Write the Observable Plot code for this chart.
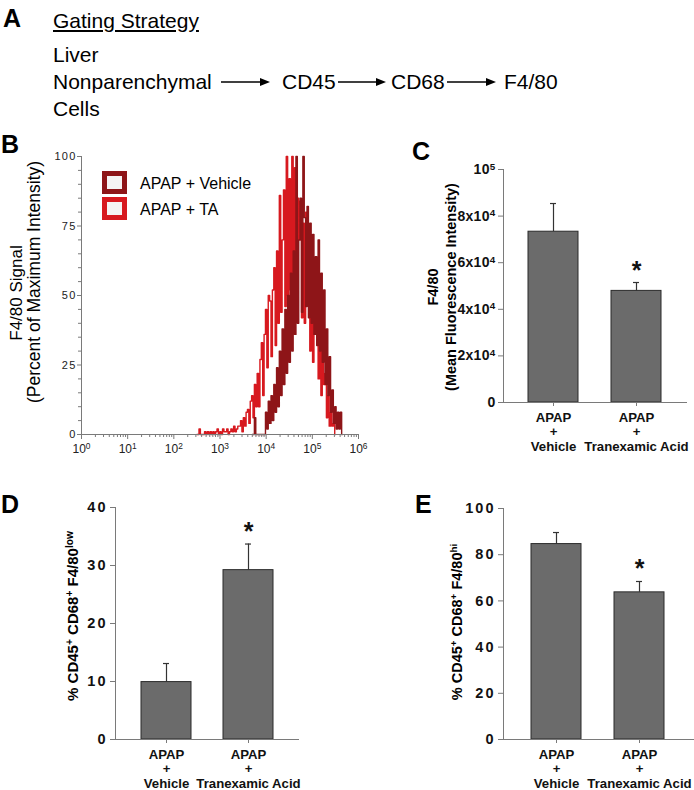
<!DOCTYPE html>
<html><head><meta charset="utf-8">
<script src="https://cdn.jsdelivr.net/npm/d3@7"></script>
<script src="https://cdn.jsdelivr.net/npm/@observablehq/plot@0.6"></script>
<style>
body{margin:0;background:#fff;font-family:"Liberation Sans",Arial,sans-serif;color:#000;}
#root{position:relative;width:694px;height:790px;overflow:hidden;background:#fff;}
.abs{position:absolute;white-space:nowrap;line-height:1;}
.rot{position:absolute;white-space:nowrap;line-height:1;transform:translate(-50%,-50%) rotate(-90deg);}
.plot{position:absolute;}
.letter{font-weight:bold;font-size:25px;}
.sp{font-size:0.68em;position:relative;top:-0.5em;}
.box{position:absolute;box-sizing:border-box;background:#f5f3f3;}
</style></head>
<body><div id="root">
  <div class="abs letter" style="left:3px;top:6px">A</div>
  <div class="abs" style="left:53px;top:10px;font-size:21px;text-decoration:underline;">Gating Strategy</div>
  <div class="abs" style="left:53px;top:44px;font-size:21px;">Liver</div>
  <div class="abs" style="left:53px;top:71px;font-size:21px;">Nonparenchymal</div>
  <div class="abs" style="left:53px;top:98px;font-size:21px;">Cells</div>
  <div class="abs" style="left:282px;top:71px;font-size:21px;">CD45</div>
  <div class="abs" style="left:391px;top:71px;font-size:21px;">CD68</div>
  <div class="abs" style="left:504px;top:71px;font-size:21px;">F4/80</div>
  <svg class="plot" style="left:0;top:0" width="694" height="130">
    <g fill="#000" stroke="#000" stroke-width="1.4">
      <line x1="221" y1="82" x2="262" y2="82"/><polygon points="270,82 260,78 260,86" stroke="none"/>
      <line x1="338" y1="82" x2="378" y2="82"/><polygon points="386,82 376,78 376,86" stroke="none"/>
      <line x1="447" y1="82" x2="488" y2="82"/><polygon points="496,82 486,78 486,86" stroke="none"/>
    </g>
  </svg>

  <div class="abs letter" style="left:1px;top:132px">B</div>
  <div class="abs letter" style="left:412px;top:139px">C</div>
  <div class="abs letter" style="left:1px;top:492px">D</div>
  <div class="abs letter" style="left:415px;top:492px">E</div>
</div>
<script>
// ---------- Data ----------
// Panel B: flow histogram (percent of max), bins on log10 scale
const binStep = 0.03;
const taStartLog = 2.50;
const vehicleStartLog = 3.70;
const taCounts = [
  0,0,2,0,
  0,0,1,0,1,0,1,
  0,1,0,1,2,0,1,0,2,1,
  1,2,0,1,2,1,3,1,2,3,
  3,5,1,6,3,8,
  9,4,12,14,6,18,10,
  22,10,27,33,14,36,
  45,24,50,48,28,52,
  60,32,66,40,86,44,
  70,88,46,100,50,92,
  52,100,48,96,50,85,
  70,84,42,76,40,80,
  55,68,30,60,26,50,
  40,48,20,38,14,30,
  18,22,6,14,3,8,
  3,4,0
];
const vehicleCounts = [
  0,0,6,0,
  0,0,0,0,0,0,
  8,2,12,4,14,5,
  18,8,24,10,30,14,
  38,18,45,22,50,26,
  58,30,66,36,100,40,
  70,85,44,100,78,46,
  82,42,76,40,72,36,
  64,32,70,30,58,26,
  52,18,38,14,28,8,
  16,4,10,2,8,2,
  8,0
];
const seriesNames = ["APAP + Vehicle", "APAP + TA"];
const seriesColors = ["#8e1518", "#d7191f"];
const decadeTicks = [1, 10, 100, 1000, 10000, 100000, 1000000];
const histYTicks = [0, 25, 50, 75, 100];

// Panels C-E
const groups = ["APAP\n+\nVehicle", "APAP\n+\nTranexamic Acid"];
const significant = [false, true];
const mfiMean = [73300, 47900];
const mfiSem = [12100, 3600];
const lowMean = [9.9, 29.2];
const lowSem = [3.2, 4.5];
const hiMean = [84.6, 63.7];
const hiSem = [5.0, 4.7];
const mfiTicks = [0, 20000, 40000, 60000, 80000, 100000];
const mfiTickLabels = ["0", "2x10⁴", "4x10⁴", "6x10⁴", "8x10⁴", "10⁵"];
const lowTicks = [0, 10, 20, 30, 40];
const hiTicks = [0, 20, 40, 60, 80, 100];

// ---------- Build ----------
const root = document.getElementById("root");
const FONT = "Liberation Sans, Arial, sans-serif";
const AX = "#7a7a7a";
const supDigits = ["⁰","¹","²","³","⁴","⁵","⁶"];

function place(node, left, top) {
  node.classList.add("plot");
  node.style.left = left + "px";
  node.style.top = top + "px";
  root.appendChild(node);
  return node;
}
// turn trailing unicode superscript digit into a raised tspan (text stays text)
function supify(svg) {
  d3.select(svg).selectAll("text").each(function() {
    const t = this.textContent;
    const m = t.match(/^(.*?)([⁰¹²³⁴⁵⁶])$/);
    if (!m || this.querySelector("tspan")) return;
    const digit = String(supDigits.indexOf(m[2]));
    this.textContent = m[1];
    const ts = document.createElementNS("http://www.w3.org/2000/svg", "tspan");
    ts.setAttribute("dy", "-0.45em");
    ts.setAttribute("font-size", "0.7em");
    ts.textContent = digit;
    this.appendChild(ts);
  });
}
function tickFont(svg, axis, size, weight, spacing) {
  d3.select(svg).selectAll("g").filter(function() {
    const a = this.getAttribute("aria-label") || "";
    return a.startsWith(axis + "-axis tick label");
  }).selectAll("text")
    .attr("font-size", size).attr("font-weight", weight)
    .style("font-size", size + "px").style("font-weight", weight)
    .style("letter-spacing", spacing + "px");
}

// Panel B
const taData = taCounts.map((y, i) => ({x: 10 ** (taStartLog + i * binStep), y}));
const vehData = vehicleCounts.map((y, i) => ({x: 10 ** (vehicleStartLog + i * binStep), y}));
const minorX = [];
for (let e = 0; e < 6; e++) for (let m = 2; m <= 9; m++) minorX.push(m * 10 ** e);
const minorY = d3.range(0, 101, 5).filter(v => v % 25 !== 0);

const bPlot = Plot.plot({
  width: 370, height: 330,
  marginLeft: 81, marginTop: 16, marginRight: 12, marginBottom: 36,
  style: {fontFamily: FONT, fontSize: "10px", color: "#222", background: "transparent", overflow: "visible"},
  x: {type: "log", domain: [1, 1e6], axis: null},
  y: {domain: [0, 100], axis: null},
  marks: [
    Plot.line(taData, {x: "x", y: "y", curve: "step", stroke: seriesColors[1], strokeWidth: 1.4}),
    Plot.line(vehData, {x: "x", y: "y", curve: "step", stroke: seriesColors[0], strokeWidth: 1.4}),
    Plot.axisX({ticks: minorX, tickSize: 3, tickFormat: () => "", stroke: AX, label: null}),
    Plot.axisX({ticks: decadeTicks, tickSize: 5, tickPadding: 5, tickFormat: d => "10" + supDigits[Math.round(Math.log10(d))], stroke: AX, label: null}),
    Plot.axisY({ticks: minorY, tickSize: 3, tickFormat: () => "", stroke: AX, label: null}),
    Plot.axisY({ticks: histYTicks, tickSize: 4, tickPadding: 1, stroke: AX, label: null}),
    Plot.frame({anchor: "left", stroke: AX}),
    Plot.frame({anchor: "bottom", stroke: AX})
  ]
});
supify(bPlot);
tickFont(bPlot, "y", 11, "normal", 1.2);
tickFont(bPlot, "x", 12, "normal", 0);
place(bPlot, 0, 140);

// Panel B labels / legend (HTML)
function addHTML(html) { root.insertAdjacentHTML("beforeend", html); }
addHTML(`<div class="rot" style="left:16px;top:293px;font-size:17px;">F4/80 Signal</div>`);
addHTML(`<div class="rot" style="left:35px;top:282px;font-size:17.5px;">(Percent of Maximum Intensity)</div>`);
seriesNames.forEach((name, i) => {
  const top = [171, 197][i];
  addHTML(`<div class="box" style="left:102px;top:${top}px;width:25px;height:23px;border:5px solid ${seriesColors[i]};"></div>`);
  addHTML(`<div class="abs" style="left:140px;top:${top + 5}px;font-size:16px;">${name}</div>`);
});

// Bar panels
function barPanel({means, sems, yDomain, yTicks, yLabels, width, height, margins, pInner, pOuter, tickSizePx, spacing}) {
  const data = groups.map((g, i) => ({g, mean: means[i], top: means[i] + sems[i], sig: significant[i]}));
  const svg = Plot.plot({
    width, height, ...margins,
    style: {fontFamily: FONT, fontSize: "13px", fontWeight: "bold", color: "#111", background: "transparent", overflow: "visible"},
    x: {domain: groups, paddingInner: pInner, paddingOuter: pOuter, axis: null},
    y: {domain: yDomain, axis: null},
    marks: [
      Plot.ruleX(data, {x: "g", y1: "mean", y2: "top", stroke: "#333", strokeWidth: 1.2}),
      Plot.tickY(data, {x: "g", y: "top", stroke: "#333", strokeWidth: 1.2, insetLeft: 22, insetRight: 22}),
      Plot.barY(data, {x: "g", y: "mean", fill: "#6b6b6b", stroke: "#2b2b2b", strokeWidth: 1}),
      Plot.text(data.filter(d => d.sig), {x: "g", y: "top", text: () => "*", fontSize: 25, fontWeight: "bold", dy: -12, fill: "#111"}),
      Plot.axisY({ticks: yTicks, tickSize: 5, tickPadding: 3,
        tickFormat: yLabels ? d => yLabels[yTicks.indexOf(d)] : d => String(d), stroke: AX, label: null}),
      Plot.axisX({tickSize: 4, tickFormat: () => "", stroke: AX, label: null}),
      Plot.frame({anchor: "left", stroke: AX}),
      Plot.frame({anchor: "bottom", stroke: AX}),
      Plot.text(data, {x: "g", text: "g", frameAnchor: "bottom", lineAnchor: "top", dy: 8.5, lineHeight: 1.12, fontSize: 13.2, fontWeight: "bold", fill: "#111"})
    ]
  });
  supify(svg);
  tickFont(svg, "y", tickSizePx, "bold", spacing);
  return svg;
}

place(barPanel({means: mfiMean, sems: mfiSem, yDomain: [0, 100000], yTicks: mfiTicks, yLabels: mfiTickLabels,
  width: 314, height: 335, margins: {marginLeft: 123, marginTop: 29, marginRight: 8, marginBottom: 73},
  pInner: 0.396, pOuter: 0.29, tickSizePx: 14, spacing: 0.3}), 380, 140);
place(barPanel({means: lowMean, sems: lowSem, yDomain: [0, 40], yTicks: lowTicks,
  width: 340, height: 315, margins: {marginLeft: 115, marginTop: 32, marginRight: 42, marginBottom: 51},
  pInner: 0.392, pOuter: 0.30, tickSizePx: 14.5, spacing: 2}), 0, 475);
place(barPanel({means: hiMean, sems: hiSem, yDomain: [0, 100], yTicks: hiTicks,
  width: 344, height: 315, margins: {marginLeft: 153, marginTop: 33, marginRight: 1, marginBottom: 51},
  pInner: 0.394, pOuter: 0.33, tickSizePx: 14.5, spacing: 2}), 350, 475);

// Y titles for bar panels
addHTML(`<div class="rot" style="left:433px;top:287px;font-size:14.5px;font-weight:bold;">F4/80</div>`);
addHTML(`<div class="rot" style="left:451px;top:287px;font-size:14.5px;font-weight:bold;">(Mean Fluorescence Intensity)</div>`);
addHTML(`<div class="rot" style="left:73px;top:616px;font-size:15px;font-weight:bold;">% CD45<span class="sp">+</span> CD68<span class="sp">+</span> F4/80<span class="sp">low</span></div>`);
addHTML(`<div class="rot" style="left:457px;top:622px;font-size:14.5px;font-weight:bold;">% CD45<span class="sp">+</span> CD68<span class="sp">+</span> F4/80<span class="sp">hi</span></div>`);
</script>
</body></html>
